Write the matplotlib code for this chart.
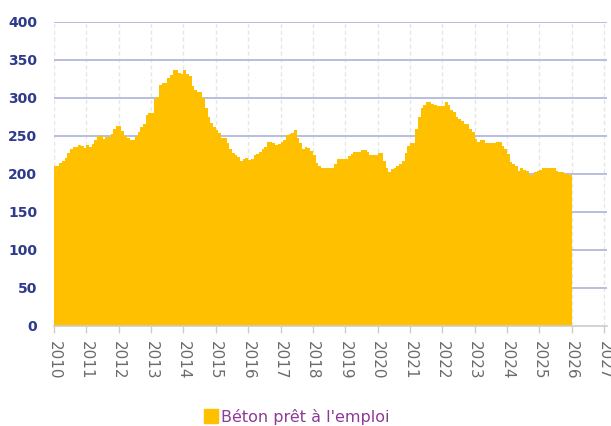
import numpy as np
import matplotlib.pyplot as plt
from matplotlib.lines import Line2D

# indice mensuel, janvier 2010 -> décembre 2025
beton_2010 = [210, 210, 214, 217, 221, 227, 233, 235, 235, 238, 236, 234]
beton_2011 = [238, 235, 239, 244, 250, 250, 246, 248, 248, 252, 259, 263]
beton_2012 = [263, 256, 250, 247, 244, 244, 249, 255, 261, 266, 277, 280]
beton_2013 = [280, 298, 301, 317, 320, 320, 326, 330, 337, 336, 332, 331]
beton_2014 = [336, 331, 328, 316, 310, 307, 307, 300, 286, 275, 267, 262]
beton_2015 = [258, 253, 247, 247, 240, 233, 227, 224, 222, 217, 220, 221]
beton_2016 = [218, 219, 224, 226, 229, 232, 235, 242, 242, 240, 238, 239]
beton_2017 = [242, 245, 251, 252, 254, 257, 247, 240, 232, 235, 234, 230]
beton_2018 = [225, 214, 210, 207, 207, 207, 208, 208, 213, 219, 219, 219]
beton_2019 = [219, 223, 226, 229, 229, 229, 231, 231, 228, 225, 225, 224]
beton_2020 = [227, 227, 217, 207, 202, 206, 208, 210, 213, 217, 227, 236]
beton_2021 = [240, 240, 259, 275, 286, 290, 294, 294, 292, 291, 289, 289]
beton_2022 = [289, 294, 290, 284, 281, 275, 272, 269, 265, 265, 259, 255]
beton_2023 = [246, 242, 244, 244, 240, 240, 240, 240, 242, 242, 236, 232]
beton_2024 = [226, 215, 213, 210, 204, 207, 205, 203, 198, 198, 202, 204]
beton_2025 = [205, 207, 208, 208, 207, 208, 204, 202, 202, 200, 199, 198]

valeurs = (beton_2010 + beton_2011 + beton_2012 + beton_2013 + beton_2014
           + beton_2015 + beton_2016 + beton_2017 + beton_2018 + beton_2019
           + beton_2020 + beton_2021 + beton_2022 + beton_2023 + beton_2024
           + beton_2025)
annees = list(range(2010, 2028))
y_ticks = [0, 50, 100, 150, 200, 250, 300, 350, 400]

# position en années décimales
x = 2010 + np.arange(len(valeurs)) / 12
x = np.append(x, 2026)
y = np.append(valeurs, valeurs[-1])

fig = plt.figure(figsize=(6.11, 4.26), dpi=100)
ax = fig.add_axes([0.0884, 0.2354, 0.905, 0.7136])

ax.fill_between(x, 0, y, step="post", color="#FFC000", linewidth=0, zorder=2)

ax.set_xlim(2010, 2027.09)
ax.set_ylim(0, 400)

# grilles
for v in y_ticks[1:]:
    ax.axhline(v, color="#B3B9DD", linewidth=1.3, zorder=1)
for a in annees:
    ax.axvline(a, color="#E6E6E6", linewidth=1, linestyle=(0, (3, 2)), zorder=0)

ax.set_yticks(y_ticks)
ax.set_yticklabels([str(v) for v in y_ticks], fontsize=10,
                   fontweight="bold", color="#2E3A8C")
ax.set_xticks(annees)
ax.set_xticklabels([str(a) for a in annees], rotation=270, fontsize=11,
                   color="#6B6B6B")

ax.tick_params(axis="y", length=0, pad=12)
ax.tick_params(axis="x", length=5, color="#CCCCCC", width=1, pad=6)

for s in ["top", "right", "left"]:
    ax.spines[s].set_visible(False)
ax.spines["bottom"].set_color("#CCCCCC")
ax.spines["bottom"].set_linewidth(1.2)

# légende
handle = Line2D([], [], marker="s", linestyle="none", markersize=10,
                markerfacecolor="#FFC000", markeredgecolor="#FFC000")
fig.legend([handle], ["Béton prêt à l'emploi"], loc="center",
           bbox_to_anchor=(0.485, 0.022), frameon=False, fontsize=11.5,
           labelcolor="#8E3A96", handletextpad=0.1, handlelength=1)

plt.savefig("out.png")
